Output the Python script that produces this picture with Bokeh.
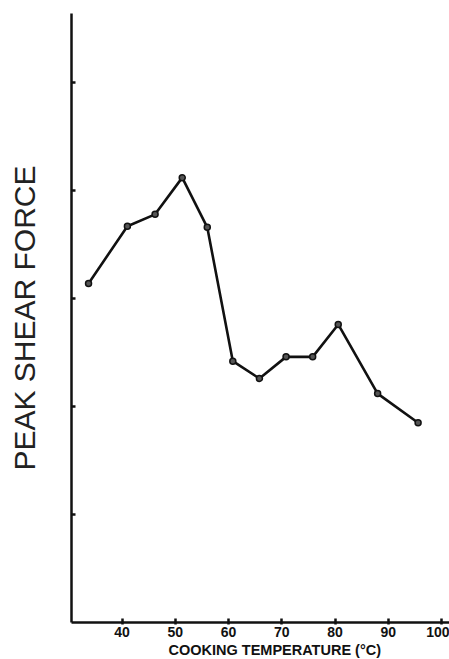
from bokeh.plotting import figure
from bokeh.models import FixedTicker, CustomJSTickFormatter, Title, Range1d
from bokeh.embed import file_html
from bokeh.resources import INLINE

# Data
temperature_c = [33.7, 41.0, 46.2, 51.3, 56.0, 60.8, 65.8, 70.8, 75.8, 80.6, 88.0, 95.6]
peak_shear = [3.14, 3.67, 3.78, 4.12, 3.66, 2.42, 2.26, 2.46, 2.46, 2.76, 2.12, 1.85]
x_ticks = [40, 50, 60, 70, 80, 90, 100]
y_ticks = [1, 2, 3, 4, 5]
x_title = "COOKING TEMPERATURE (°C)"
y_title = "PEAK SHEAR FORCE"

p = figure(width=449, height=659, output_backend="svg", toolbar_location=None,
           x_range=Range1d(30.5, 101.5), y_range=Range1d(0, 5.64),
           min_border_left=71, min_border_right=0, min_border_top=13, min_border_bottom=37)
p.outline_line_color = None
p.xgrid.grid_line_color = None
p.ygrid.grid_line_color = None
p.background_fill_color = "white"
p.border_fill_color = "white"

p.line(temperature_c, peak_shear, line_color="#111111", line_width=2.6)
p.scatter(temperature_c, peak_shear, size=6, fill_color="#555555", line_color="#111111", line_width=1.5)

# x axis
xa = p.xaxis[0]
xa.ticker = FixedTicker(ticks=x_ticks)
xa.axis_line_width = 2.5
xa.axis_line_color = "#111111"
xa.major_tick_in = 4
xa.major_tick_out = 2
xa.major_tick_line_width = 2.5
xa.major_tick_line_color = "#111111"
xa.minor_tick_line_color = None
xa.major_label_standoff = 2
xa.major_label_text_font = "Liberation Sans"
xa.major_label_text_font_style = "bold"
xa.major_label_text_font_size = "14px"
xa.major_label_text_color = "#111111"

# y axis
ya = p.yaxis[0]
ya.ticker = FixedTicker(ticks=y_ticks)
ya.formatter = CustomJSTickFormatter(code="return ''")
ya.axis_line_width = 2.5
ya.axis_line_color = "#111111"
ya.major_tick_in = 4
ya.major_tick_out = 0
ya.major_tick_line_width = 2.5
ya.major_tick_line_color = "#111111"
ya.minor_tick_line_color = None
ya.axis_label = y_title
ya.axis_label_text_font = "Liberation Sans"
ya.axis_label_text_font_style = "normal"
ya.axis_label_text_font_size = "30px"
ya.axis_label_text_color = "#222222"
ya.axis_label_standoff = 31

p.add_layout(Title(text=x_title, align="left", offset=97, standoff=0,
                   text_font="Liberation Sans", text_font_style="bold", text_font_size="14.5px",
                   text_color="#111111"), "below")

open("out.html", "w").write(file_html(p, INLINE))
